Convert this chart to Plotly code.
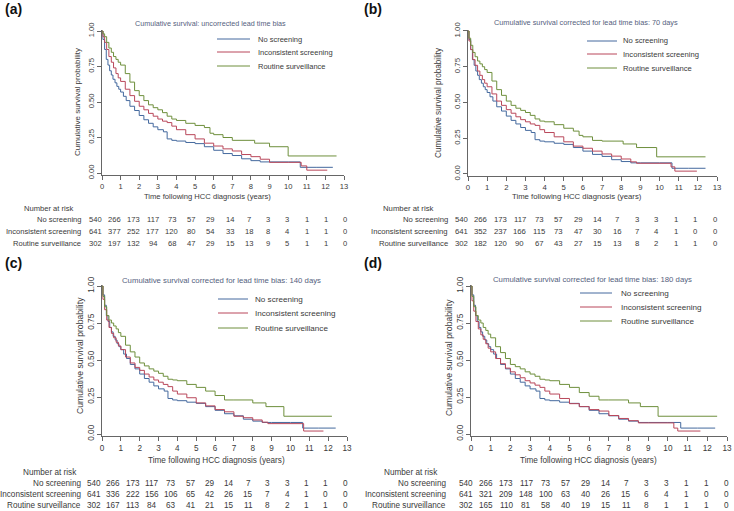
import plotly.graph_objects as go

W, H = 734, 511
FONT = "Liberation Sans, Arial, sans-serif"

YEARS = list(range(14))
GROUPS = ["No screening", "Inconsistent screening", "Routine surveillance"]
COLORS = ["#44699e", "#b9475a", "#6e8f3c"]
PANEL_LABELS = ["(a)", "(b)", "(c)", "(d)"]
PANEL_TITLES = [
    "Cumulative survival: uncorrected lead time bias",
    "Cumulative survival corrected for lead time bias: 70 days",
    "Cumulative survival corrected for lead time bias: 140 days",
    "Cumulative survival corrected for lead time bias: 180 days",
]
Y_TICKS = [0, 0.25, 0.5, 0.75, 1.0]
Y_TICK_LABELS = ["0.00", "0.25", "0.50", "0.75", "1.00"]
X_TITLE = "Time following HCC diagnosis (years)"
Y_TITLE = "Cumulative survival probability"
RISK_TITLE = "Number at risk"

# ---- Survival curves ----
# No screening is identical in all four panels
none_t = [0, 0.05, 0.14, 0.23, 0.32, 0.41, 0.5, 0.59, 0.7, 0.8, 0.9, 1.0, 1.15, 1.3, 1.5, 1.75, 2.0, 2.25, 2.5, 2.75, 3.0, 3.3,
          3.5, 3.75, 4.0, 4.5, 5.0, 5.5, 6.0, 6.5, 7.0, 7.5, 8.0, 8.5, 9.0, 10.0, 10.65, 11.5, 12.4]
none_s = [1.0, 0.94, 0.87, 0.80, 0.76, 0.72, 0.69, 0.66, 0.635, 0.61, 0.59, 0.57, 0.54, 0.51, 0.47, 0.44, 0.405, 0.375, 0.35, 0.325, 0.305, 0.29,
          0.24, 0.23, 0.225, 0.215, 0.207, 0.185, 0.16, 0.137, 0.123, 0.10, 0.087, 0.078, 0.078, 0.078, 0.04, 0.04, 0.04]

# (a) uncorrected
a_incon_t = [0, 0.05, 0.14, 0.25, 0.37, 0.5, 0.62, 0.75, 0.87, 1.0, 1.25, 1.5, 1.75, 2.0, 2.25, 2.5, 2.75, 3.0, 3.25, 3.5, 3.75, 4.0,
             4.5, 5.0, 5.5, 6.0, 6.5, 7.0, 7.5, 8.0, 8.5, 9.0, 10.0, 10.7, 11.0, 12.1]
a_incon_s = [1.0, 0.96, 0.92, 0.87, 0.82, 0.78, 0.74, 0.70, 0.67, 0.645, 0.59, 0.545, 0.505, 0.47, 0.445, 0.42, 0.40, 0.38, 0.365, 0.355, 0.33, 0.305,
             0.27, 0.24, 0.21, 0.19, 0.17, 0.155, 0.13, 0.115, 0.097, 0.075, 0.075, 0.05, 0.02, 0.02]
a_rout_t = [0, 0.05, 0.14, 0.25, 0.37, 0.5, 0.62, 0.75, 0.87, 1.0, 1.25, 1.5, 1.75, 2.0, 2.25, 2.5, 2.75, 3.0, 3.25, 3.5, 3.75, 4.0,
            4.5, 5.0, 5.5, 5.8, 6.0, 6.5, 7.0, 8.2, 9.0, 10.0, 12.6]
a_rout_s = [1.0, 0.98, 0.96, 0.92, 0.88, 0.85, 0.82, 0.80, 0.78, 0.76, 0.70, 0.64, 0.58, 0.545, 0.51, 0.48, 0.46, 0.445, 0.425, 0.40, 0.38, 0.37,
            0.35, 0.335, 0.32, 0.28, 0.27, 0.25, 0.23, 0.21, 0.185, 0.12, 0.12]

# (b) corrected: 70 days
b_incon_t = [0, 0.05, 0.14, 0.25, 0.37, 0.5, 0.62, 0.75, 0.87, 1.0, 1.25, 1.5, 1.75, 2.0, 2.25, 2.5, 2.75, 3.0, 3.25, 3.5, 3.75, 4.0,
             4.5, 5.0, 5.5, 6.0, 6.5, 7.0, 7.5, 8.0, 8.5, 8.8, 10.6, 10.8, 11.95]
b_incon_s = [1.0, 0.93, 0.87, 0.80, 0.76, 0.72, 0.69, 0.66, 0.635, 0.61, 0.56, 0.51, 0.48, 0.45, 0.425, 0.40, 0.38, 0.365, 0.35, 0.34, 0.31, 0.29,
             0.26, 0.225, 0.195, 0.18, 0.16, 0.14, 0.125, 0.105, 0.085, 0.075, 0.05, 0.02, 0.02]
b_rout_t = [0, 0.05, 0.14, 0.25, 0.37, 0.5, 0.62, 0.75, 0.87, 1.0, 1.25, 1.5, 1.75, 2.0, 2.25, 2.5, 2.75, 3.0, 3.25, 3.5, 3.75, 4.0,
            4.5, 5.0, 5.5, 5.8, 6.0, 6.5, 7.0, 8.1, 8.8, 9.85, 12.4]
b_rout_s = [1.0, 0.95, 0.90, 0.85, 0.82, 0.79, 0.77, 0.75, 0.73, 0.71, 0.65, 0.59, 0.55, 0.51, 0.48, 0.46, 0.445, 0.43, 0.41, 0.385, 0.37, 0.365,
            0.345, 0.32, 0.30, 0.27, 0.26, 0.235, 0.23, 0.21, 0.185, 0.12, 0.12]

# (c) corrected: 140 days
c_incon_t = [0, 0.05, 0.14, 0.25, 0.37, 0.5, 0.62, 0.75, 0.87, 1.0, 1.25, 1.5, 1.75, 2.0, 2.25, 2.5, 2.75, 3.0, 3.25, 3.5, 3.75, 4.0,
             4.5, 5.0, 5.5, 6.0, 6.5, 7.0, 7.5, 8.0, 8.5, 8.8, 10.7, 11.75]
c_incon_s = [1.0, 0.91, 0.84, 0.77, 0.72, 0.68, 0.65, 0.62, 0.595, 0.57, 0.52, 0.48, 0.45, 0.43, 0.405, 0.385, 0.365, 0.35, 0.335, 0.32, 0.29, 0.27,
             0.245, 0.21, 0.19, 0.165, 0.15, 0.12, 0.11, 0.095, 0.08, 0.07, 0.02, 0.02]
c_rout_t = [0, 0.05, 0.14, 0.25, 0.37, 0.5, 0.62, 0.75, 0.87, 1.0, 1.25, 1.5, 1.75, 2.0, 2.25, 2.5, 2.75, 3.0, 3.25, 3.5, 3.75, 4.0,
            4.5, 5.0, 5.5, 6.0, 6.5, 7.0, 8.0, 8.7, 9.65, 12.2]
c_rout_s = [1.0, 0.93, 0.86, 0.80, 0.77, 0.75, 0.73, 0.71, 0.685, 0.66, 0.60, 0.555, 0.52, 0.48, 0.46, 0.44, 0.425, 0.41, 0.39, 0.37, 0.365, 0.36,
            0.335, 0.315, 0.29, 0.26, 0.23, 0.23, 0.21, 0.185, 0.12, 0.12]

# (d) corrected: 180 days
d_incon_t = [0, 0.05, 0.14, 0.25, 0.37, 0.5, 0.62, 0.75, 0.87, 1.0, 1.25, 1.5, 1.75, 2.0, 2.25, 2.5, 2.75, 3.0, 3.25, 3.5, 3.75, 4.0,
             4.5, 5.0, 5.5, 6.0, 6.5, 7.0, 7.5, 8.0, 8.5, 10.3, 10.5, 11.65]
d_incon_s = [1.0, 0.90, 0.83, 0.76, 0.71, 0.67, 0.64, 0.61, 0.58, 0.555, 0.51, 0.475, 0.445, 0.42, 0.40, 0.38, 0.36, 0.345, 0.33, 0.315, 0.29, 0.27,
             0.24, 0.205, 0.185, 0.165, 0.155, 0.125, 0.105, 0.09, 0.075, 0.04, 0.02, 0.02]
d_rout_t = [0, 0.05, 0.14, 0.25, 0.37, 0.5, 0.62, 0.75, 0.87, 1.0, 1.25, 1.5, 1.75, 2.0, 2.25, 2.5, 2.75, 3.0, 3.25, 3.5, 3.75, 4.0,
            4.5, 5.0, 5.5, 6.0, 6.5, 7.0, 8.0, 8.6, 9.5, 12.5]
d_rout_s = [1.0, 0.93, 0.86, 0.80, 0.77, 0.75, 0.72, 0.70, 0.675, 0.65, 0.59, 0.55, 0.51, 0.47, 0.455, 0.44, 0.42, 0.405, 0.39, 0.37, 0.365, 0.36,
            0.335, 0.315, 0.28, 0.255, 0.23, 0.23, 0.21, 0.185, 0.12, 0.12]

# ---- Number at risk ----
risk_a_none = [540, 266, 173, 117, 73, 57, 29, 14, 7, 3, 3, 1, 1, 0]
risk_a_incon = [641, 377, 252, 177, 120, 80, 54, 33, 18, 8, 4, 1, 1, 0]
risk_a_rout = [302, 197, 132, 94, 68, 47, 29, 15, 13, 9, 5, 1, 1, 0]
risk_b_none = [540, 266, 173, 117, 73, 57, 29, 14, 7, 3, 3, 1, 1, 0]
risk_b_incon = [641, 352, 237, 166, 115, 73, 47, 30, 16, 7, 4, 1, 0, 0]
risk_b_rout = [302, 182, 120, 90, 67, 43, 27, 15, 13, 8, 2, 1, 1, 0]
risk_c_none = [540, 266, 173, 117, 73, 57, 29, 14, 7, 3, 3, 1, 1, 0]
risk_c_incon = [641, 336, 222, 156, 106, 65, 42, 26, 15, 7, 4, 1, 0, 0]
risk_c_rout = [302, 167, 113, 84, 63, 41, 21, 15, 11, 8, 2, 1, 1, 0]
risk_d_none = [540, 266, 173, 117, 73, 57, 29, 14, 7, 3, 3, 1, 1, 0]
risk_d_incon = [641, 321, 209, 148, 100, 63, 40, 26, 15, 6, 4, 1, 0, 0]
risk_d_rout = [302, 165, 110, 81, 58, 40, 19, 15, 11, 8, 1, 1, 1, 0]

CURVES = [
    [(none_t, none_s), (a_incon_t, a_incon_s), (a_rout_t, a_rout_s)],
    [(none_t, none_s), (b_incon_t, b_incon_s), (b_rout_t, b_rout_s)],
    [(none_t, none_s), (c_incon_t, c_incon_s), (c_rout_t, c_rout_s)],
    [(none_t, none_s), (d_incon_t, d_incon_s), (d_rout_t, d_rout_s)],
]
RISK = [
    [risk_a_none, risk_a_incon, risk_a_rout],
    [risk_b_none, risk_b_incon, risk_b_rout],
    [risk_c_none, risk_c_incon, risk_c_rout],
    [risk_d_none, risk_d_incon, risk_d_rout],
]

# ---- Layout geometry in pixels (styling only) ----
GEOM = [
    dict(x=(102, 344), y1=31, y0=173, title=(210, 23), xt=(207, 197), yt=(77, 102),
         leg=(217, 250, 256, [39, 52, 66]), lab=(3, 9), nar=(49, 208), rowx=83,
         rows=[219, 231, 243], cols=(95, 345), fs=1.0),
    dict(x=(468, 717), y1=31, y0=174, title=(586, 22), xt=(577, 197), yt=(438, 103),
         leg=(587, 617, 621, [41, 54, 68]), lab=(362, 9), nar=(409, 208), rowx=450,
         rows=[219, 231, 243], cols=(461, 715), fs=1.02),
    dict(x=(102, 347), y1=286, y0=434, title=(221, 280), xt=(216, 460), yt=(80, 356),
         leg=(218, 248, 253, [299, 313, 328]), lab=(3, 263), nar=(50, 472), rowx=83,
         rows=[483, 494, 505], cols=(94, 345), fs=1.08),
    dict(x=(471, 727), y1=286, y0=434, title=(592, 279), xt=(588, 460), yt=(449, 358),
         leg=(580, 612, 619, [293, 307, 321]), lab=(362, 263), nar=(411, 472), rowx=448,
         rows=[483, 494, 505], cols=(466, 726), fs=1.08),
]

TXT = "#3a3a3a"
AXC = "#666666"
TITLE_C = "#55617e"


def px(v):
    return v / W


def py(v):
    return 1 - v / H


Y_LO, Y_HI = -0.015, 1.005

fig = go.Figure()
annotations = []
shapes = []

for i, g in enumerate(GEOM):
    n = "" if i == 0 else str(i + 1)
    fs = g["fs"]
    for k, (t, s) in enumerate(CURVES[i]):
        fig.add_trace(go.Scatter(
            x=t, y=s, mode="lines", line=dict(color=COLORS[k], width=1, shape="hv"),
            xaxis="x" + n, yaxis="y" + n, showlegend=False, name=GROUPS[k],
            hoverinfo="skip"))

    scale = g["y0"] - g["y1"]
    top = g["y1"] - (Y_HI - 1.0) * scale
    bot = g["y0"] - Y_LO * scale
    axfont = dict(family=FONT, size=7.6 * fs, color=TXT)
    fig.update_layout(**{
        "xaxis" + n: dict(domain=[px(g["x"][0]), px(g["x"][1])], range=[0, 13],
                          anchor="y" + n, tickvals=YEARS, ticktext=[str(v) for v in YEARS],
                          showline=True, linecolor=AXC, linewidth=1, ticks="outside",
                          ticklen=4, tickcolor=AXC, showgrid=False, zeroline=False,
                          tickfont=axfont, automargin=False, fixedrange=True),
        "yaxis" + n: dict(domain=[py(bot), py(top)], range=[Y_LO, Y_HI],
                          anchor="x" + n, tickvals=Y_TICKS, ticktext=Y_TICK_LABELS,
                          tickangle=-90, showline=True, linecolor=AXC, linewidth=1,
                          ticks="outside", ticklen=4, tickcolor=AXC, showgrid=False,
                          zeroline=False, tickfont=axfont, automargin=False, fixedrange=True),
    })

    # panel label
    annotations.append(dict(text="<b>" + PANEL_LABELS[i] + "</b>", x=px(g["lab"][0]), y=py(g["lab"][1]),
                            xref="paper", yref="paper", xanchor="left", yanchor="middle",
                            showarrow=False, font=dict(family=FONT, size=14, color="#111")))
    # panel title
    annotations.append(dict(text=PANEL_TITLES[i], x=px(g["title"][0]), y=py(g["title"][1]),
                            xref="paper", yref="paper", xanchor="center", yanchor="middle",
                            showarrow=False, font=dict(family=FONT, size=7.2 * fs, color=TITLE_C)))
    # axis titles
    annotations.append(dict(text=X_TITLE, x=px(g["xt"][0]), y=py(g["xt"][1]),
                            xref="paper", yref="paper", xanchor="center", yanchor="middle",
                            showarrow=False, font=dict(family=FONT, size=7.6 * fs, color=TXT)))
    annotations.append(dict(text=Y_TITLE, x=px(g["yt"][0]), y=py(g["yt"][1]), textangle=-90,
                            xref="paper", yref="paper", xanchor="center", yanchor="middle",
                            showarrow=False, font=dict(family=FONT, size=8.0 * fs, color=TXT)))
    # legend (manual, compact like the original)
    lx0, lx1, ltx, lys = g["leg"]
    for k in range(3):
        shapes.append(dict(type="line", xref="paper", yref="paper",
                           x0=px(lx0), x1=px(lx1), y0=py(lys[k]), y1=py(lys[k]),
                           line=dict(color=COLORS[k], width=1)))
        annotations.append(dict(text=GROUPS[k], x=px(ltx), y=py(lys[k]), xref="paper", yref="paper",
                                xanchor="left", yanchor="middle", showarrow=False,
                                font=dict(family=FONT, size=7.5 * fs, color=TXT)))
    # number at risk table
    annotations.append(dict(text=RISK_TITLE, x=px(g["nar"][0]), y=py(g["nar"][1]),
                            xref="paper", yref="paper", xanchor="center", yanchor="middle",
                            showarrow=False, font=dict(family=FONT, size=7.6 * fs, color=TXT)))
    c0, c1 = g["cols"]
    for k in range(3):
        annotations.append(dict(text=GROUPS[k], x=px(g["rowx"]), y=py(g["rows"][k]),
                                xref="paper", yref="paper", xanchor="right", yanchor="middle",
                                showarrow=False, font=dict(family=FONT, size=7.55 * fs, color=TXT)))
        for j, val in enumerate(RISK[i][k]):
            cx = c0 + (c1 - c0) * YEARS[j] / YEARS[-1]
            annotations.append(dict(text=str(val), x=px(cx), y=py(g["rows"][k]),
                                    xref="paper", yref="paper", xanchor="center", yanchor="middle",
                                    showarrow=False, font=dict(family=FONT, size=7.6 * fs, color=TXT)))

fig.update_layout(
    width=W, height=H, margin=dict(l=0, r=0, t=0, b=0, pad=0),
    paper_bgcolor="white", plot_bgcolor="white",
    showlegend=False, annotations=annotations, shapes=shapes,
    font=dict(family=FONT, color=TXT),
)

# remove the browser's default 8px body margin so the 734x511 figure fills the window exactly
fig.write_html("out.html", config={"displayModeBar": False, "staticPlot": True},
               post_script="document.body.style.margin='0';document.body.style.overflow='hidden';")
